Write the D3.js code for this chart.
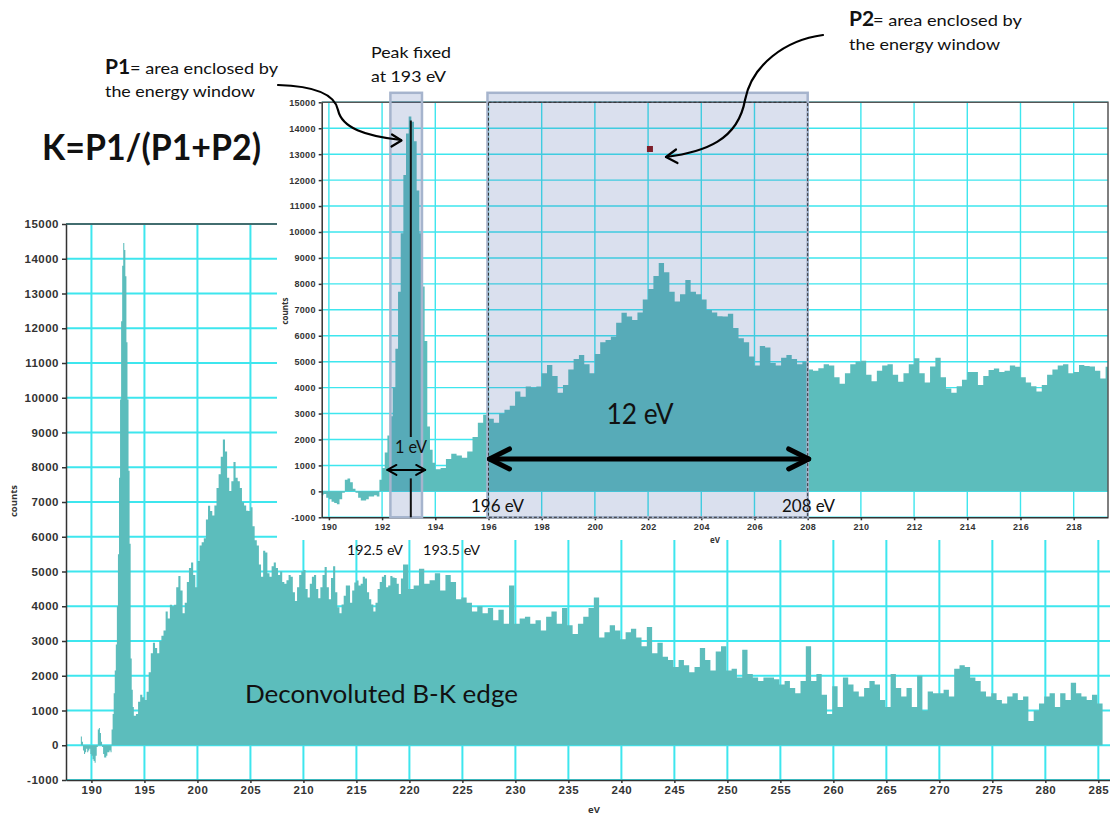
<!DOCTYPE html>
<html>
<head>
<meta charset="utf-8">
<title>B-K edge</title>
<script src="https://cdnjs.cloudflare.com/ajax/libs/d3/7.8.5/d3.min.js"></script>
<style>
  body { margin: 0; background: #fff; }
  svg { display: block; font-family: "Open Sans", sans-serif; }
  .axis path, .axis line { stroke: #333; stroke-width: 1.5; }
  .axis text { fill: #333; font-weight: 600; }
  .main .tick text { font-size: 11.5px; letter-spacing: 0.5px; }
  .inset .tick text { font-size: 9px; letter-spacing: 0.3px; }
  .grid line { stroke: #3ee6ee; }
  .note { font-family: Lato, "Open Sans", sans-serif; fill: #111; }
</style>
</head>
<body>
<svg id="chart" width="1110" height="815"></svg>
<script>

// spectrum, stored as three pieces, each with its own energy step (eV)
var peakStartEV = 189.0, peakStepEV = 0.1;
var peakCounts = [250, 100, -150, -250, -200, -100, -200, -150, -100, -250,
  -300, -400, -450, -500, -300, -50, 450, 500, 350, 100,
  -50, -250, -350, -350, -300, -200, -200, -150, -200, 450,
  900, 1500, 2150, 2900, 4000, 5500, 7700, 9950, 12200, 13800,
  14450, 14250, 13500, 11600, 9950, 7900, 5800, 2500, 1600, 1100];

var edgeStartEV = 194.0, edgeStepEV = 0.2;
var edgeCounts = [850, 900, 1250, 1450, 1380, 1300, 1540, 2100, 2650, 2950,
  2800, 2650, 3000, 3150, 3300, 3850, 3650, 4040, 4000, 4040,
  4550, 4870, 4450, 3800, 4100, 4700, 5100, 5260, 4900, 4550,
  5300, 5750, 5840, 5960, 6500, 6890, 6740, 6610, 6900, 7400,
  7800, 8300, 8800, 8450, 7700, 7320, 7600, 8150, 7700, 7600,
  7400, 6990, 6900, 6750, 6740, 6850, 6300, 5900, 5750, 5200,
  4850, 5600, 5550, 4950, 4850, 5150, 5260, 5100, 4900, 5000,
  4700, 4650, 4750, 4900, 4850, 4400, 4150, 4550, 4900, 5000,
  5040, 4500, 4250, 4650, 4850, 4900, 4500, 4230, 4550, 4900,
  5130, 4550, 4200, 4810, 5150, 4400, 3970, 3800, 4050, 4300,
  4600, 4600, 4100, 4450, 4680, 4740, 4600, 4650, 4850, 4800,
  4400, 4200, 4050, 3850, 4100, 4500, 4700, 4850, 4900, 4550,
  4600, 4870, 4830, 4810, 4650, 4350, 4800];

var tailStartEV = 219.4, tailStepEV = 0.5;
var tailCounts = [5200, 4500, 4600, 5080, 4650, 4750, 4950, 4450, 4900, 4700,
  4200, 4250, 4100, 3850, 4000, 3800, 3950, 3600, 3900, 3500,
  4600, 3500, 3650, 3700, 3500, 3600, 3300, 3700, 3850, 3500,
  3950, 3450, 3200, 3500, 3700, 3950, 4250, 3100, 3250, 3450,
  3300, 3050, 3250, 3350, 3100, 2850, 3400, 2650, 2950, 2550,
  2450, 2250, 2450, 2300, 2100, 2250, 2800, 2450, 2150, 2700,
  2850, 2150, 2200, 1950, 2750, 2050, 1950, 1850, 1950, 1950,
  1900, 1750, 1850, 1650, 1500, 1850, 2850, 1850, 2050, 1450,
  900, 1700, 1100, 1950, 1750, 1550, 1400, 1650, 1850, 1750,
  1300, 1100, 2050, 1650, 1400, 1650, 1100, 2000, 1000, 1550,
  1500, 1500, 1600, 1400, 2200, 2300, 2250, 1950, 1850, 1550,
  1400, 1500, 1300, 1200, 1400, 1500, 1300, 1400, 700, 1000,
  1200, 1400, 1500, 1100, 1500, 1300, 1800, 1500, 1400, 1300,
  1450, 1200];

var countTicks = [-1000, 0, 1000, 2000, 3000, 4000, 5000, 6000, 7000, 8000,
  9000, 10000, 11000, 12000, 13000, 14000, 15000];
var mainEVTicks = [190, 195, 200, 205, 210, 215, 220, 225, 230, 235,
  240, 245, 250, 255, 260, 265, 270, 275, 280, 285];
var insetEVTicks = [190, 192, 194, 196, 198, 200, 202, 204, 206, 208,
  210, 212, 214, 216, 218];

// energy windows marked on the zoomed view
var p1Window = [192.35, 193.5];
var p2Window = [196, 208];
var peakFixedEV = 193.08;
var marker = { ev: 202.07, counts: 13200 };

function bins(start, step, counts) {
  return counts.map(function(c, i) {
    return { ev: +(start + i * step).toFixed(2), counts: c };
  });
}

var spectrum = bins(peakStartEV, peakStepEV, peakCounts)
  .concat(bins(edgeStartEV, edgeStepEV, edgeCounts))
  .concat(bins(tailStartEV, tailStepEV, tailCounts));
var lastBin = spectrum[spectrum.length - 1];
spectrum.push({ ev: lastBin.ev + tailStepEV, counts: lastBin.counts });

var svg = d3.select("#chart");

// ---------- main chart ----------
var xMain = d3.scaleLinear().domain([187.6, 286.1]).range([66, 1110]);
var yMain = d3.scaleLinear().domain([-1000, 15000]).range([780, 224]);

var main = svg.append("g").attr("class", "main");

var gridMain = main.append("g").attr("class", "grid");
gridMain.selectAll(".v").data(mainEVTicks).enter().append("line")
    .attr("x1", function(d) { return xMain(d); })
    .attr("x2", function(d) { return xMain(d); })
    .attr("y1", yMain(15000)).attr("y2", yMain(-1000))
    .style("stroke-width", 2);
gridMain.selectAll(".h").data(countTicks).enter().append("line")
    .attr("x1", xMain.range()[0]).attr("x2", xMain.range()[1])
    .attr("y1", function(d) { return yMain(d); })
    .attr("y2", function(d) { return yMain(d); })
    .style("stroke-width", 2);

var areaMain = d3.area()
    .x(function(d) { return xMain(d.ev); })
    .y0(yMain(0))
    .y1(function(d) { return yMain(d.counts); })
    .curve(d3.curveStepAfter);

main.append("path").datum(spectrum)
    .attr("d", areaMain)
    .attr("fill", "#5cbdbc");

main.append("line")
    .attr("x1", xMain.range()[0]).attr("x2", xMain.range()[1])
    .attr("y1", yMain(15000)).attr("y2", yMain(15000))
    .attr("stroke", "#444").attr("stroke-width", 1.5);

main.append("g").attr("class", "axis")
    .attr("transform", "translate(" + xMain.range()[0] + ",0)")
    .call(d3.axisLeft(yMain).tickValues(countTicks).tickSize(4).tickSizeOuter(0)
      .tickFormat(function(d) { return String(d); }));

main.append("g").attr("class", "axis")
    .attr("transform", "translate(0," + yMain(-1000) + ")")
    .call(d3.axisBottom(xMain).tickValues(mainEVTicks).tickSize(3).tickSizeOuter(0)
      .tickFormat(function(d) { return String(d); }));

main.append("text")
    .attr("transform", "translate(17,501) rotate(-90)")
    .attr("text-anchor", "middle")
    .style("font-size", "9.5px").style("font-weight", 700).style("fill", "#333")
    .text("counts");
main.append("text")
    .attr("x", 594).attr("y", 813)
    .attr("text-anchor", "middle")
    .style("font-size", "9.5px").style("font-weight", 700).style("fill", "#333")
    .text("eV");

main.append("text").attr("class", "note")
    .attr("x", 245).attr("y", 703)
    .attr("textLength", 273).attr("lengthAdjust", "spacingAndGlyphs")
    .style("font-size", "25px")
    .text("Deconvoluted B-K edge");

// ---------- inset (zoom on 190-219 eV) ----------
var xIn = d3.scaleLinear().domain([189.73, 219.29]).range([321.7, 1108]);
var yIn = d3.scaleLinear().domain([-1000, 15000]).range([517.3, 102.3]);

var inset = svg.append("g").attr("class", "inset");

inset.append("rect")
    .attr("x", 277).attr("y", 88).attr("width", 833).attr("height", 452)
    .attr("fill", "#fff");

svg.append("clipPath").attr("id", "insetClip")
  .append("rect")
    .attr("x", xIn.range()[0]).attr("y", yIn.range()[1])
    .attr("width", xIn.range()[1] - xIn.range()[0])
    .attr("height", yIn.range()[0] - yIn.range()[1]);

var gridIn = inset.append("g").attr("class", "grid");
gridIn.selectAll(".v").data(insetEVTicks).enter().append("line")
    .attr("x1", function(d) { return xIn(d); })
    .attr("x2", function(d) { return xIn(d); })
    .attr("y1", yIn(15000)).attr("y2", yIn(-1000))
    .style("stroke-width", 1.4);
gridIn.selectAll(".h").data(countTicks).enter().append("line")
    .attr("x1", xIn.range()[0]).attr("x2", xIn.range()[1])
    .attr("y1", function(d) { return yIn(d); })
    .attr("y2", function(d) { return yIn(d); })
    .style("stroke-width", 1.4);

var areaIn = d3.area()
    .x(function(d) { return xIn(d.ev); })
    .y0(yIn(0))
    .y1(function(d) { return yIn(d.counts); })
    .curve(d3.curveStepAfter);

inset.append("path").datum(spectrum)
    .attr("d", areaIn)
    .attr("clip-path", "url(#insetClip)")
    .attr("fill", "#5cbdbc");

// frame
inset.append("path")
    .attr("d", "M" + xIn.range()[0] + "," + yIn(15000) + "H" + xIn.range()[1] + "V" + yIn(-1000))
    .attr("fill", "none").attr("stroke", "#555").attr("stroke-width", 1.5);

inset.append("g").attr("class", "axis")
    .attr("transform", "translate(" + xIn.range()[0] + ",0)")
    .call(d3.axisLeft(yIn).tickValues(countTicks).tickSize(3).tickSizeOuter(0)
      .tickFormat(function(d) { return String(d); }));

inset.append("g").attr("class", "axis")
    .attr("transform", "translate(0," + yIn(-1000) + ")")
    .call(d3.axisBottom(xIn).tickValues(insetEVTicks).tickSize(3).tickSizeOuter(0)
      .tickFormat(function(d) { return String(d); }));

inset.append("text")
    .attr("transform", "translate(288,311) rotate(-90)")
    .attr("text-anchor", "middle")
    .style("font-size", "8px").style("font-weight", 700).style("fill", "#333")
    .text("counts");
inset.append("text")
    .attr("x", 715).attr("y", 543)
    .attr("text-anchor", "middle")
    .style("font-size", "8px").style("font-weight", 700).style("fill", "#333")
    .text("eV");

// energy windows
var boxTop = yIn(15000) - 9.5;
[p1Window, p2Window].forEach(function(w) {
  inset.append("rect")
      .attr("x", xIn(w[0]) - 1).attr("y", boxTop)
      .attr("width", xIn(w[1]) - xIn(w[0]) + 1)
      .attr("height", yIn(-1000) - boxTop)
      .attr("fill", "rgb(68,102,169)").attr("fill-opacity", 0.2)
      .attr("stroke", "#a6b4cd").attr("stroke-width", 2.5);
});

inset.append("rect")
    .attr("x", xIn(p2Window[0])).attr("y", yIn(15000))
    .attr("width", xIn(p2Window[1]) - xIn(p2Window[0]))
    .attr("height", yIn(-1000) - yIn(15000))
    .attr("fill", "none").attr("stroke", "#333")
    .attr("stroke-width", 1).attr("stroke-dasharray", "3,2");

// peak position line, broken around the 1 eV label
[[14300, 2100], [500, -1000]].forEach(function(s) {
  inset.append("line")
      .attr("x1", xIn(peakFixedEV)).attr("x2", xIn(peakFixedEV))
      .attr("y1", yIn(s[0])).attr("y2", yIn(s[1]))
      .attr("stroke", "#111").attr("stroke-width", 2);
});

inset.append("rect")
    .attr("x", xIn(marker.ev) - 3).attr("y", yIn(marker.counts) - 3)
    .attr("width", 6).attr("height", 6)
    .attr("fill", "#7d1f2a");

// ---------- annotations ----------
function doubleArrow(x1, x2, y, head, spread, width) {
  var g = svg.append("g")
      .attr("fill", "none").attr("stroke", "#000")
      .attr("stroke-width", width)
      .attr("stroke-linecap", "round").attr("stroke-linejoin", "round");
  g.append("path").attr("d", "M" + x1 + "," + y + "H" + x2);
  g.append("path").attr("d", "M" + (x1 + head) + "," + (y - spread) + "L" + x1 + "," + y + "L" + (x1 + head) + "," + (y + spread));
  g.append("path").attr("d", "M" + (x2 - head) + "," + (y - spread) + "L" + x2 + "," + y + "L" + (x2 - head) + "," + (y + spread));
}

doubleArrow(xIn(p2Window[0]) + 1, xIn(p2Window[1]) + 1, yIn(1250), 20, 10, 5);
doubleArrow(xIn(192.2), xIn(193.62), yIn(825), 9, 5, 2);

function note(x, y, size, str, opts) {
  opts = opts || {};
  var t = svg.append("text").attr("class", "note")
      .attr("x", x).attr("y", y)
      .style("font-size", size + "px")
      .text(str);
  if (opts.bold) t.style("font-weight", 700);
  if (opts.anchor) t.attr("text-anchor", opts.anchor);
  if (opts.len) t.attr("textLength", opts.len).attr("lengthAdjust", "spacingAndGlyphs");
  return t;
}

note(42, 160, 36, "K=P1/(P1+P2)", { bold: true, len: 219 });

note(105, 74, 21, "P1", { bold: true });
note(130, 74, 16, "= area enclosed by", { len: 148 });
note(105, 97, 16, "the energy window", { len: 150 });

note(849, 26, 21, "P2", { bold: true });
note(873, 26, 16, "= area enclosed by", { len: 149 });
note(849, 50, 16, "the energy window", { len: 151 });

note(371, 58, 16, "Peak fixed", { len: 80 });
note(371, 82, 16, "at 193 eV", { len: 75 });

note(640, 424, 28, "12 eV", { anchor: "middle", len: 67 });
note(411, 453, 18, "1 eV", { anchor: "middle", len: 32 });
note(471, 512, 17.5, "196 eV", { len: 53 });
note(782, 512, 17.5, "208 eV", { len: 53 });
note(347, 555, 14, "192.5 eV", { len: 56 });
note(423, 555, 14, "193.5 eV", { len: 57 });

// curved callout arrows
var curves = svg.append("g")
    .attr("fill", "none").attr("stroke", "#000").attr("stroke-width", 2.2)
    .attr("stroke-linecap", "round").attr("stroke-linejoin", "round");
curves.append("path").attr("d", "M278,85 C315,86 335,95 338,110 C342,128 365,136 401,140");
curves.append("path").attr("d", "M392,134.5 L401.5,140.5 L391.5,146.5");
curves.append("path").attr("d", "M823,35 C785,40 752,65 745,100 C738,140 705,152 666,157");
curves.append("path").attr("d", "M676,149.5 L666,157 L677.5,163");

</script>
</body>
</html>
